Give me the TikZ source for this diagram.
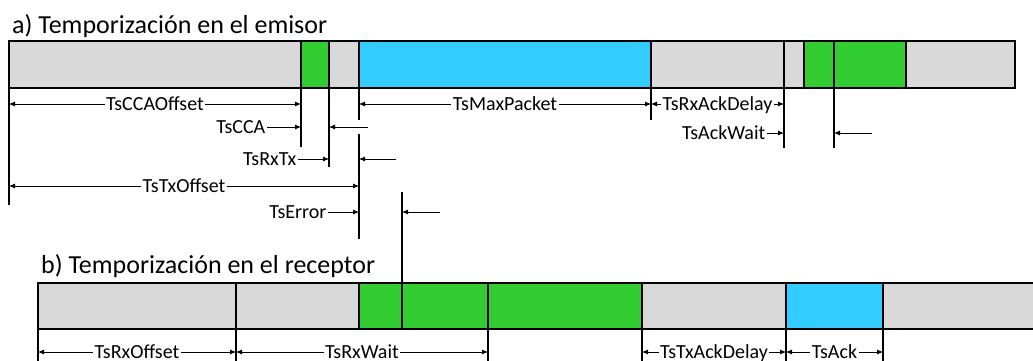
\documentclass[tikz,border=0pt]{standalone}
\usepackage{fontspec}
\setmainfont{Carlito}
\usetikzlibrary{arrows.meta}
\definecolor{barGray}{HTML}{D9D9D9}
\definecolor{barGreen}{HTML}{33CC33}
\definecolor{barBlue}{HTML}{33CCFF}
\newcommand{\segbox}[5]{\node[seg,fill=#5,minimum width=#3pt-#2pt] (#1) at (#2,#4) {};}
\begin{document}
\begin{tikzpicture}[x=1pt,y=-1pt,
 seg/.style={draw=black,line width=2pt,minimum height=47pt,inner sep=0pt,outer sep=0pt,anchor=north west},
 segb/.style={seg,minimum height=46pt},
 tick/.style={line width=2pt},
 dim/.style={line width=0.8pt,-{Latex[length=6pt,width=5pt]}},
 dimboth/.style={line width=0.8pt,{Latex[length=6pt,width=5pt]}-{Latex[length=6pt,width=5pt]}},
 lbl/.style={font=\fontsize{20}{22}\selectfont,inner sep=1.5pt,text height=12pt,text depth=0pt,fill=white},
 ttl/.style={font=\fontsize{26}{30}\selectfont,anchor=base west,inner sep=0pt}
]
\useasboundingbox (0,0) rectangle (1033,360);
% titles
\node[ttl] (ta) at (12,33) {a) Temporización en el emisor};
\node[ttl] (tb) at (41,273) {b) Temporización en el receptor};
% top bar
\segbox{s1}{9}{301}{41}{barGray}
\segbox{s2}{301}{329}{41}{barGreen}
\segbox{s3}{329}{359}{41}{barGray}
\segbox{s4}{359}{651}{41}{barBlue}
\segbox{s5}{651}{784}{41}{barGray}
\segbox{s6}{784}{804}{41}{barGray}
\segbox{s7}{804}{834}{41}{barGreen}
\segbox{s8}{834}{906}{41}{barGreen}
\segbox{s9}{906}{1015}{41}{barGray}
% bottom bar
\begin{scope}[seg/.append style={minimum height=46pt}]
\segbox{b1}{38}{236}{283}{barGray}
\segbox{b2}{236}{359}{283}{barGray}
\segbox{b3}{359}{402}{283}{barGreen}
\segbox{b4}{402}{488}{283}{barGreen}
\segbox{b5}{488}{642}{283}{barGreen}
\segbox{b6}{642}{786}{283}{barGray}
\segbox{b7}{786}{883}{283}{barBlue}
\segbox{b8}{883}{1040}{283}{barGray}
\end{scope}
% tick end points
\coordinate (k1) at (9,205);
\coordinate (k2) at (301,147);
\coordinate (k3) at (329,167);
\coordinate (k4a) at (359,120);
\coordinate (k4b) at (359,134);
\coordinate (k4c) at (359,239);
\coordinate (k5) at (651,120);
\coordinate (k6) at (784,148);
\coordinate (k8) at (834,148);
\coordinate (k10) at (402,192);
\coordinate (kb) at (0,362);
% top ticks
\draw[tick] (s1.south west) -- (k1);
\draw[tick] (s2.south west) -- (k2);
\draw[tick] (s3.south west) -- (k3);
\draw[tick] (s4.south west) -- (k4a);
\draw[tick] (k4b) -- (k4c);
\draw[tick] (s5.south west) -- (k5);
\draw[tick] (s6.south west) -- (k6);
\draw[tick] (s8.south west) -- (k8);
\draw[tick] (k10) -- (b4.north west);
% bottom ticks
\foreach \b in {b1,b2,b5,b6,b7,b8}
  \draw[line width=1.6pt] (\b.south west) -- (\b.south west |- kb);
% rows
\coordinate (r1) at (0,104);
\coordinate (r2) at (0,127);
\coordinate (r2b) at (0,133);
\coordinate (r3) at (0,159);
\coordinate (r4) at (0,186);
\coordinate (r5) at (0,212);
\coordinate (rb) at (0,352);
% row 1
\draw[dimboth] (s1.south west |- r1) -- (s2.south west |- r1) node[midway,lbl] {TsCCAOffset};
\draw[dimboth] (s4.south west |- r1) -- (s5.south west |- r1) node[midway,lbl] {TsMaxPacket};
\draw[dimboth] (s5.south west |- r1) -- (s6.south west |- r1) node[midway,lbl] {TsRxAckDelay};
% row 2
\node[lbl,anchor=east] (lcca) at (267,127) {TsCCA};
\draw[dim] (lcca.east) -- (s2.south west |- r2);
\coordinate (e2) at (368,127);
\draw[dim] (e2) -- (s3.south west |- r2);
\node[lbl,anchor=east] (lack) at (767,133) {TsAckWait};
\draw[dim] (lack.east) -- (s6.south west |- r2b);
\coordinate (e2b) at (872,133);
\draw[dim] (e2b) -- (s8.south west |- r2b);
% row 3
\node[lbl,anchor=east] (lrxtx) at (298,159) {TsRxTx};
\draw[dim] (lrxtx.east) -- (s3.south west |- r3);
\coordinate (e3) at (396,159);
\draw[dim] (e3) -- (s4.south west |- r3);
% row 4
\draw[dimboth] (s1.south west |- r4) -- (s4.south west |- r4) node[midway,lbl] {TsTxOffset};
% row 5
\node[lbl,anchor=east] (lerr) at (328,212) {TsError};
\draw[dim] (lerr.east) -- (s4.south west |- r5);
\coordinate (e5) at (440,212);
\draw[dim] (e5) -- (k10 |- r5);
% bottom row
\draw[dimboth] (b1.south west |- rb) -- (b2.south west |- rb) node[midway,lbl] {TsRxOffset};
\draw[dimboth] (b2.south west |- rb) -- (b5.south west |- rb) node[midway,lbl] {TsRxWait};
\draw[dimboth] (b6.south west |- rb) -- (b7.south west |- rb) node[midway,lbl] {TsTxAckDelay};
\draw[dimboth] (b7.south west |- rb) -- (b8.south west |- rb) node[midway,lbl] {TsAck};
\end{tikzpicture}
\end{document}
